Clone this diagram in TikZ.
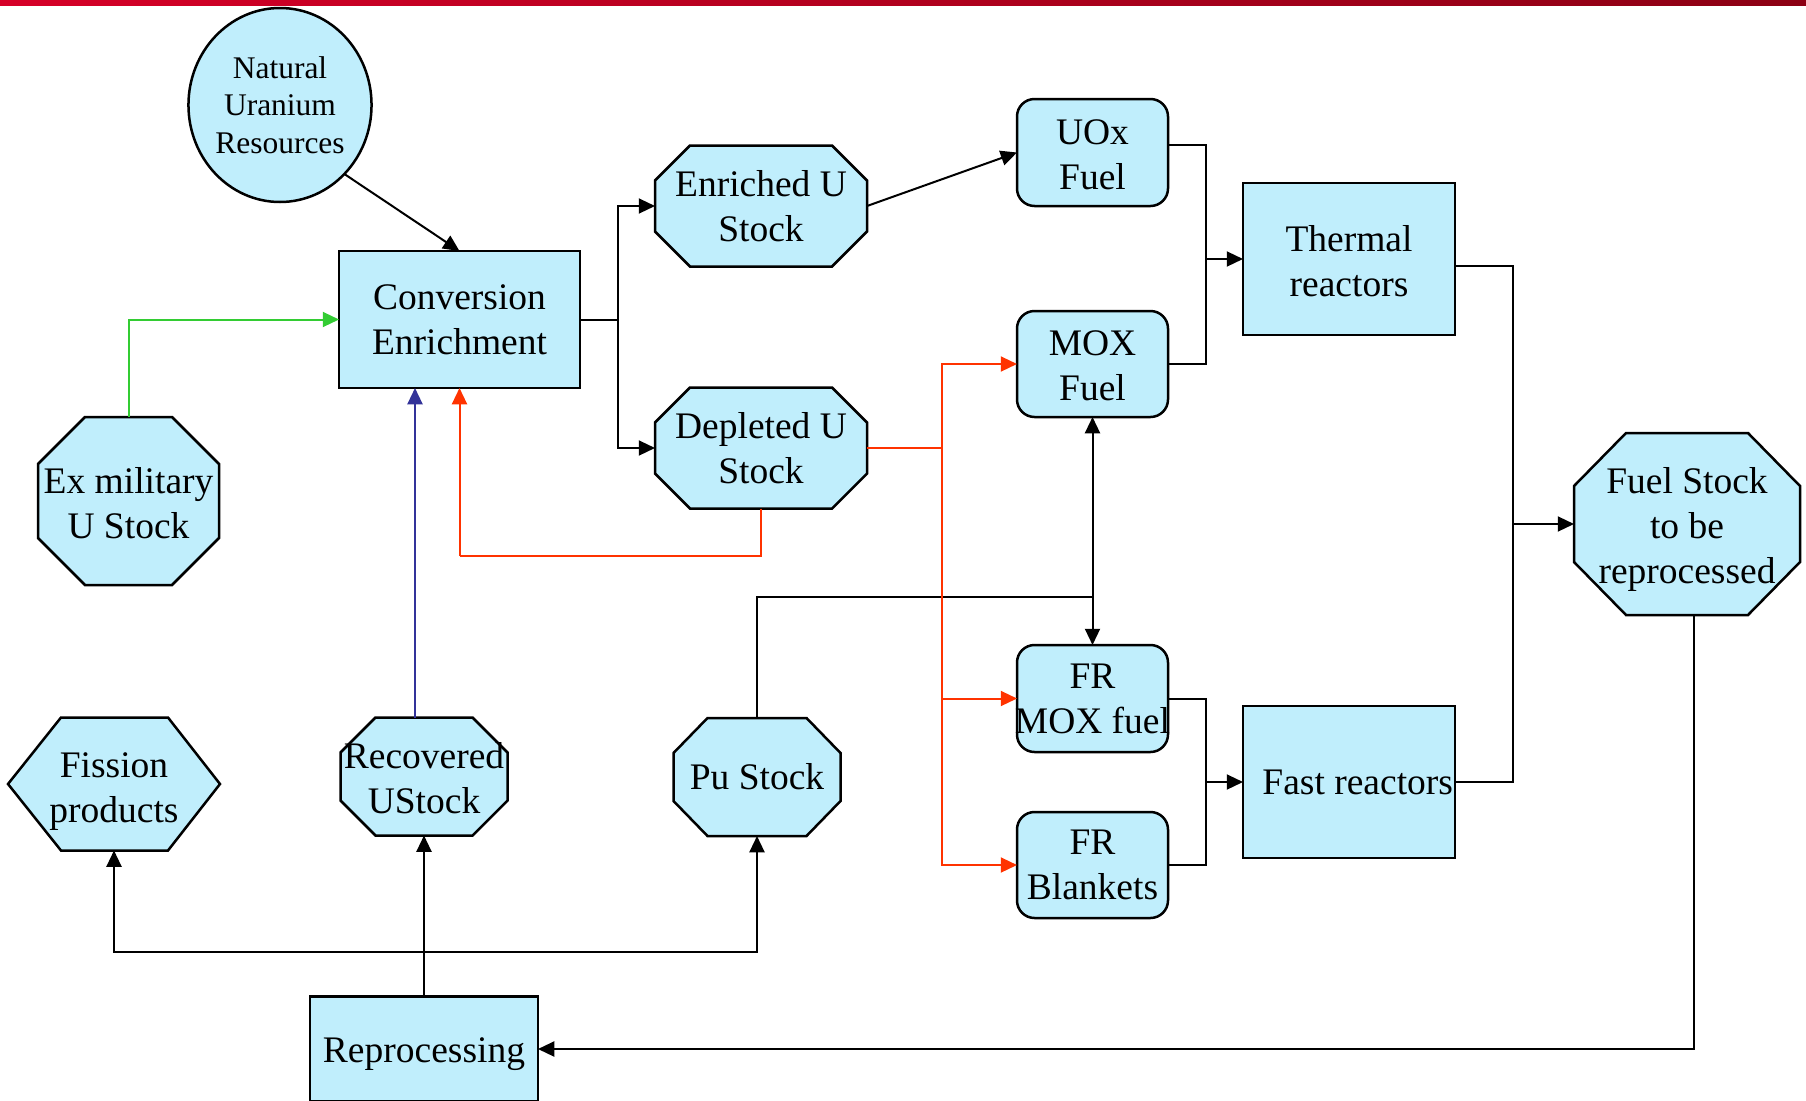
\documentclass[tikz,border=0pt]{standalone}
\usepackage{fontspec}
\setmainfont{Liberation Serif}
\usetikzlibrary{shapes.geometric,arrows.meta,calc}
\pgfdeclarelayer{bg}
\pgfsetlayers{bg,main}
\definecolor{cyanfill}{RGB}{192,238,252}
\definecolor{gline}{RGB}{51,204,51}
\definecolor{rline}{RGB}{255,51,0}
\definecolor{bline}{RGB}{51,51,153}
\definecolor{barL}{RGB}{214,0,40}
\definecolor{barR}{RGB}{140,0,20}
\tikzset{
  sz/.style 2 args={minimum width=#1*0.4pt, minimum height=#2*0.4pt},
  nbase/.style={inner sep=0pt, outer sep=0pt, align=center, font=\fontsize{15pt}{18pt}\selectfont},
  boxnode/.style={nbase, rectangle, draw=black, line width=1pt, fill=cyanfill},
  roundnode/.style={boxnode, rounded corners=7pt},
  ellnode/.style={nbase, ellipse, draw=black, line width=1pt, fill=cyanfill, font=\fontsize{12.6pt}{15pt}\selectfont},
  polynode/.style={nbase, rectangle},
  shapebd/.style={draw=black, line width=1pt, fill=cyanfill, line join=miter},
  wire/.style={draw=black, line width=0.8pt},
  tip/.style={-{Triangle[length=6.5pt,width=6pt]}},
  conn/.style={wire, tip},
  redwire/.style={draw=rline, line width=0.8pt},
  redconn/.style={redwire, tip},
  blueconn/.style={draw=bline, line width=0.8pt, tip},
  greenconn/.style={draw=gline, line width=0.8pt, tip},
}
\newcommand{\octshape}[3]{%
  \draw[shapebd] ($(#1.north west)+(#2,0)$) -- ($(#1.north east)+(-#2,0)$) -- ($(#1.north east)+(0,#3)$) -- ($(#1.south east)+(0,-#3)$) -- ($(#1.south east)+(-#2,0)$) -- ($(#1.south west)+(#2,0)$) -- ($(#1.south west)+(0,-#3)$) -- ($(#1.north west)+(0,#3)$) -- cycle;}
\begin{document}
\begin{tikzpicture}[x=0.4pt,y=-0.4pt]
\useasboundingbox (0,0) rectangle (1806,1100);
\shade[left color=barL, right color=barR] (0,0) rectangle (1806,5);

% nodes
\node[ellnode, sz={180}{194}] (nat) at (280,105) {Natural\\Uranium\\Resources};
\node[boxnode, sz={241}{137}] (conv) at (459.5,319.5) {Conversion\\Enrichment};
\node[polynode, sz={212}{121}] (enr) at (761,206) {Enriched U\\Stock};
\node[polynode, sz={212}{121}] (dep) at (761,448) {Depleted U\\Stock};
\node[roundnode, sz={151}{107}, text height=29.7pt] (uox) at (1092.5,152.5) {UOx\\Fuel};
\node[roundnode, sz={151}{106}, text height=29.7pt] (mox) at (1092.5,364) {MOX\\Fuel};
\node[boxnode, sz={212}{152}, text height=30pt] (therm) at (1349,259) {Thermal\\reactors};
\node[polynode, sz={226}{182}, text height=50.9pt] (fuelst) at (1687,524) {Fuel Stock\\to be\\reprocessed};
\node[polynode, sz={181}{168}, text height=30pt] (exmil) at (128.5,501) {Ex military\\U Stock};
\node[roundnode, sz={151}{107}] (frmox) at (1092.5,698.5) {FR\\\makebox[0pt]{MOX fuel}};
\node[roundnode, sz={151}{106}] (frbl) at (1092.5,865) {FR\\Blankets};
\node[boxnode, sz={212}{152}] (fast) at (1349,782) {\makebox[0pt]{\hspace*{7pt}Fast reactors}};
\node[polynode, sz={212}{133}, text height=33.8pt] (fiss) at (114,784) {Fission\\products};
\node[polynode, sz={167}{118}, text height=30pt] (rec) at (424,776.5) {Recovered\\UStock};
\node[polynode, sz={167}{118}] (pu) at (757,777) {Pu Stock};
\node[boxnode, sz={228}{105}, text height=14pt] (rep) at (424,1049) {Reprocessing};

\begin{pgfonlayer}{bg}
\octshape{enr}{35}{35}
\octshape{dep}{35}{35}
\octshape{fuelst}{52}{53}
\octshape{exmil}{47}{47}
\octshape{rec}{35}{35}
\octshape{pu}{34}{35}
\draw[shapebd] ($(fiss.north west)+(53,0)$) -- ($(fiss.north east)+(-52,0)$) -- (fiss.east) -- ($(fiss.south east)+(-52,0)$) -- ($(fiss.south west)+(53,0)$) -- (fiss.west) -- cycle;
\end{pgfonlayer}

% junction coordinates
\coordinate (j1) at (618,319.5);
\coordinate (j2) at (1206,259);
\coordinate (j3) at (1513,524);
\coordinate (j4) at (1206,782);
\coordinate (j5) at (424,952);
\coordinate (j6) at (1092.5,597);
\coordinate (j7) at (459.5,556);
\coordinate (j8) at (942,448);
\coordinate (b1) at ($(rec.north)+(-9,0)$);
\coordinate (f1) at ($(fuelst.south)+(7,0)$);

% black connectors
\draw[conn] (nat.-47) -- (conv.north);
\draw[wire] (conv.east) -- (j1);
\draw[conn] (j1) |- (enr.west);
\draw[conn] (j1) |- (dep.west);
\draw[conn] (enr.east) -- (uox.west);
\draw[wire] ($(uox.east)+(0,-8)$) -| (j2);
\draw[wire] (mox.east) -| (j2);
\draw[conn] (j2) -- (therm.west);
\draw[wire] ($(therm.east)+(0,7)$) -| (j3);
\draw[wire] (fast.east) -| (j3);
\draw[conn] (j3) -- (fuelst.west);
\draw[wire] (frmox.east) -| (j4);
\draw[wire] (frbl.east) -| (j4);
\draw[conn] (j4) -- (fast.west);
\draw[conn] (f1) |- (rep.east);
\draw[conn] (rep.north) -- (rec.south);
\draw[conn] (j5) -| (fiss.south);
\draw[conn] (j5) -| (pu.south);
\draw[wire] (pu.north) |- (j6);
\draw[conn] (j6) -- (mox.south);
\draw[conn] (j6) -- (frmox.north);

% red connectors
\draw[redwire] (dep.south) |- (j7);
\draw[redconn] (j7) -- (conv.south);
\draw[redwire] (dep.east) -- (j8);
\draw[redconn] (j8) |- (mox.west);
\draw[redconn] (j8) |- (frmox.west);
\draw[redconn] (j8) |- (frbl.west);

% blue and green
\draw[blueconn] (b1) -- (b1 |- conv.south);
\draw[greenconn] (exmil.north) |- (conv.west);
\end{tikzpicture}
\end{document}
